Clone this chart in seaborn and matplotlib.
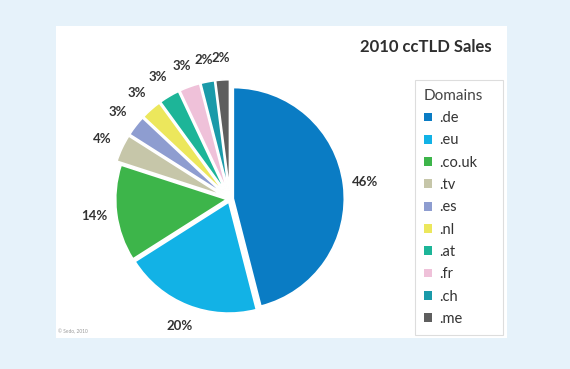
import matplotlib
matplotlib.use("Agg")
import matplotlib.pyplot as plt
from matplotlib.patches import Rectangle
import seaborn as sns

domains = [".de", ".eu", ".co.uk", ".tv", ".es", ".nl", ".at", ".fr", ".ch", ".me"]
shares = [46, 20, 14, 4, 3, 3, 3, 3, 2, 2]
colors = ["#0a7cc4", "#12b2e6", "#3db54a", "#c6c6a9", "#8e9dd0",
          "#ece75c", "#1db598", "#efc1d9", "#1a9aa9", "#5e5e5e"]

sns.set_theme(style="white")
plt.rcParams['font.family'] = ['Lato', 'DejaVu Sans']

W, H = 570, 369
fig = plt.figure(figsize=(W / 100, H / 100), dpi=100)
fig.patch.set_facecolor("#e6f2fa")

# white card
fig.patches.append(Rectangle((56 / W, 1 - 338 / H), (507 - 56) / W, (338 - 26) / H,
                             transform=fig.transFigure, facecolor="white",
                             edgecolor="none", zorder=-10))

# pie axes: centre (230,199) px, radius 111 px
cx, cy, r = 230, 199, 111
lim = 1.4
half = lim * r
ax = fig.add_axes([(cx - half) / W, (H - cy - half) / H, 2 * half / W, 2 * half / H])
ax.set_facecolor("none")
explode = [0.03 if s >= 10 else 0.075 for s in shares]
wedges, texts = ax.pie(shares, labels=[f"{s}%" for s in shares], colors=colors,
                       startangle=90, counterclock=False, explode=explode,
                       labeldistance=1.2,
                       wedgeprops=dict(edgecolor="white", linewidth=1.2),
                       textprops=dict(fontsize=9.5, fontweight="bold", color="#333333"))
for t in texts:
    t.set_ha("center")
    t.set_va("center")
ax.set_xlim(-lim, lim)
ax.set_ylim(-lim, lim)
ax.set_aspect("equal")
ax.axis("off")

fig.text(492 / W, 1 - 47 / H, "2010 ccTLD Sales", ha="right", va="center",
         fontsize=12, color="#2e2e2e", fontweight="bold")
fig.text(58 / W, 1 - 332 / H, "© Sedo, 2010", ha="left", va="center",
         fontsize=3.5, color="#999999")

leg = fig.legend(wedges, domains, title="Domains", loc="upper left",
                 bbox_to_anchor=(415 / W, 1 - 80 / H, 88 / W, 0), mode="expand",
                 alignment="left", frameon=True, fancybox=False,
                 fontsize=10.5, title_fontsize=11, handlelength=0.55, handleheight=0.55,
                 handletextpad=0.5, labelspacing=0.57, borderpad=0.6,
                 borderaxespad=0)
leg.get_frame().set_edgecolor("#d5d5d5")
leg.get_frame().set_linewidth(0.8)
leg.get_title().set_color("#444444")
for t in leg.get_texts():
    t.set_color("#333333")
for h in leg.legend_handles:
    h.set_edgecolor("none")

fig.savefig("out.png", dpi=100, facecolor=fig.get_facecolor())
